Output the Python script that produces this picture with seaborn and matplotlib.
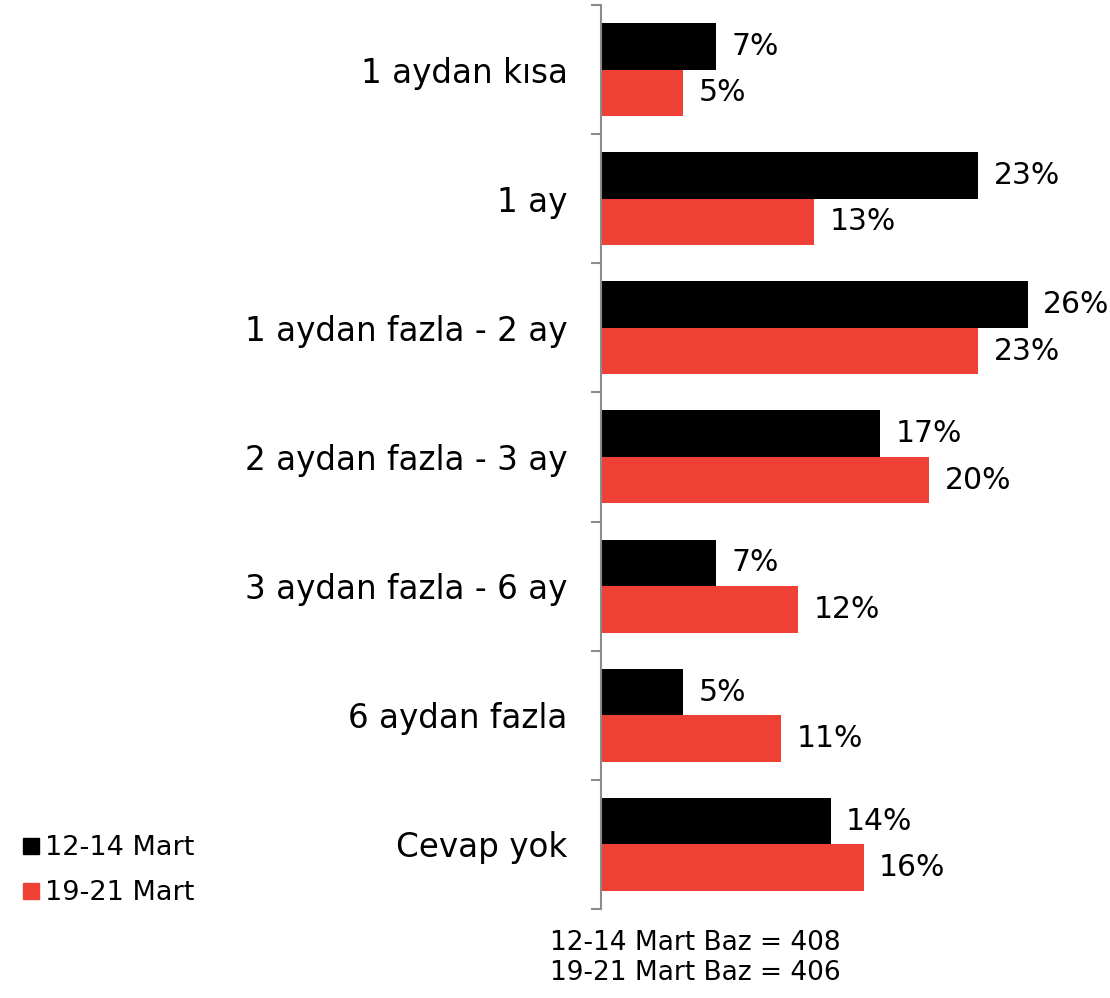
import pandas as pd
import numpy as np
import matplotlib
matplotlib.use("Agg")
import matplotlib.pyplot as plt
import seaborn as sns
from matplotlib.lines import Line2D

# Data
categories = ["1 aydan kısa", "1 ay", "1 aydan fazla - 2 ay", "2 aydan fazla - 3 ay",
              "3 aydan fazla - 6 ay", "6 aydan fazla", "Cevap yok"]
series_names = ["12-14 Mart", "19-21 Mart"]
mart_12_14 = [7, 23, 26, 17, 7, 5, 14]
mart_19_21 = [5, 13, 23, 20, 12, 11, 16]
footnote = ["12-14 Mart Baz = 408", "19-21 Mart Baz = 406"]

colors = ["#000000", "#EF4036"]

df = pd.DataFrame({
    "Kategori": categories * 2,
    "Dönem": [series_names[0]] * len(categories) + [series_names[1]] * len(categories),
    "Değer": mart_12_14 + mart_19_21,
})

sns.set_style("white")
plt.rcParams["font.family"] = ["DejaVu Sans"]
plt.rcParams["text.color"] = "black"

fig = plt.figure(figsize=(11.1, 9.98), dpi=100)
ax = fig.add_axes([0.5414, 0.0892, 0.4436, 0.9058])

sns.barplot(data=df, x="Değer", y="Kategori", hue="Dönem", order=categories,
            hue_order=series_names, palette=colors, width=0.72, gap=0,
            saturation=1, legend=False, linewidth=0, ax=ax)

ax.set_xlim(0, 30)
ax.set_ylim(len(categories) - 0.5, -0.5)

# Value labels
for cont in ax.containers:
    ax.bar_label(cont, labels=[f"{v:.0f}%" for v in cont.datavalues],
                 padding=11, fontsize=21.5, color="black")

# Axis styling
for s in ["top", "right", "bottom"]:
    ax.spines[s].set_visible(False)
ax.spines["left"].set_color("#8c8c8c")
ax.spines["left"].set_linewidth(1.5)
ax.set_xticks([])
ax.set_xlabel("")
ax.set_ylabel("")
ax.tick_params(axis="y", which="major", left=True, length=0, pad=24,
               labelsize=23.5, labelcolor="black")
ax.set_yticks(np.arange(-0.5, len(categories), 1), minor=True)
ax.tick_params(axis="y", which="minor", left=True, length=7, width=1.5,
               color="#8c8c8c", direction="out")

# Legend
handles = [Line2D([], [], marker="s", linestyle="none", markersize=11,
                  markerfacecolor=c, markeredgecolor=c) for c in colors]
fig.legend(handles, series_names, loc="lower left", bbox_to_anchor=(0.0, 0.073),
           frameon=False, fontsize=19.5, handletextpad=0.05, labelspacing=0.7,
           handlelength=0.9, borderpad=0.2)

# Footnote
fig.text(0.626, 0.055, footnote[0], ha="center", va="center", fontsize=19)
fig.text(0.626, 0.025, footnote[1], ha="center", va="center", fontsize=19)

fig.savefig("out.png", dpi=100)
